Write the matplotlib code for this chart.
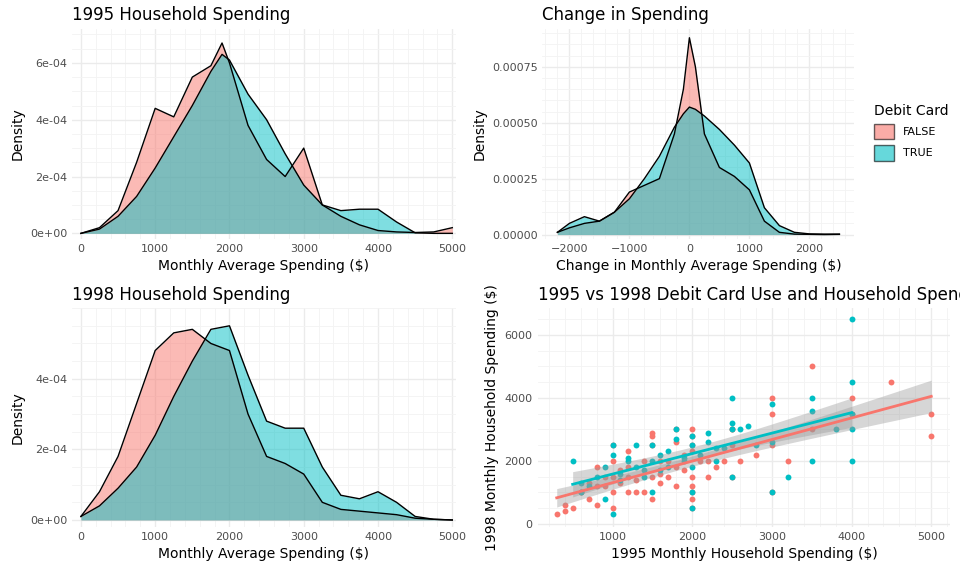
import numpy as np
import matplotlib.pyplot as plt
from matplotlib.patches import Patch

RED, CYAN = "#F8766D", "#00BFC4"
xs = [0,250,500,750,1000,1250,1500,1750,1900,2000,2250,2500,2750,3000,3250,3500,3750,4000,4250,4500,4750,5000]
d95_false = [0,0.2,0.8,2.5,4.4,4.1,5.5,5.9,6.7,6.0,3.8,2.6,2.0,3.0,1.0,0.6,0.3,0.1,0.05,0.03,0.05,0.2]
d95_true = [0,0.15,0.6,1.3,2.3,3.4,4.5,5.7,6.3,6.1,4.9,4.0,2.8,1.7,1.0,0.8,0.85,0.85,0.4,0.02,0,0]
xs98 = [0,250,500,750,1000,1250,1500,1750,2000,2250,2500,2750,3000,3250,3500,3750,4000,4250,4500,4750,5000]
d98_false = [0.1,0.8,1.8,3.3,4.8,5.3,5.4,5.0,4.8,3.0,1.8,1.6,1.3,0.5,0.3,0.25,0.2,0.15,0.05,0.02,0]
d98_true = [0.1,0.4,0.9,1.5,2.4,3.5,4.5,5.4,5.5,4.1,2.8,2.6,2.6,1.5,0.7,0.6,0.8,0.5,0.1,0.02,0]
xc = [-2200,-2000,-1750,-1500,-1250,-1000,-750,-500,-250,-100,0,100,250,500,750,1000,1250,1500,1750,2000,2250,2500]
dc_false = [0.1,0.3,0.5,0.6,1.0,1.9,2.2,2.5,4.5,6.5,8.8,7.5,4.5,3.0,2.6,2.0,0.6,0.1,0.02,0.01,0,0.01]
dc_true = [0.1,0.5,0.8,0.6,1.0,1.6,2.5,3.5,4.8,5.4,5.7,5.6,5.3,4.7,4.0,3.2,1.2,0.4,0.1,0.03,0.02,0.02]

sp95_false = [300,400,500,600,700,800,800,900,1000,1000,1000,1100,1200,1200,1300,1400,1500,1500,1500,1600,1700,1800,1800,1900,2000,2000,2000,2000,2000,2100,2200,2300,2500,2500,2600,2800,3000,3000,3000,3200,3500,3500,4000,4000,4500,5000,5000,
              400,600,700,900,1000,1100,1200,1300,1500,1600,1700,1800,1900,2000,2000,2000,2200,2400,2500,3000,1000,1200,1500,1800,2000,800,1400,1600,2500]
sp98_false = [300,600,500,1000,800,1200,600,1500,1000,2000,500,1300,1500,1800,1000,2000,1500,2500,800,1600,2000,1800,1200,2200,1500,2500,1000,3000,500,2000,2000,1800,2500,1500,2000,2200,4000,3500,2500,2000,5000,3000,4000,3500,4500,3500,2800,
              400,1000,1300,1200,1500,1700,2300,1400,2800,1300,1500,2600,1700,1200,2800,800,1500,2000,3000,1000,2500,1000,2900,3000,2300,1800,1000,2000,3000]
sp95_true = [500,600,700,800,900,1000,1000,1100,1200,1300,1400,1500,1500,1600,1700,1800,1900,2000,2000,2000,2100,2200,2300,2500,2500,2500,2600,2800,3000,3000,3200,3500,3500,3800,4000,4000,4000,4000,
             600,900,1000,1200,1400,1500,1700,1800,2000,2000,2200,2400,2500,2700,3000,3500,4000,1100,1300,1600,1900,2300]
sp98_true = [2000,1000,1200,1500,800,2500,300,1400,2000,1800,1500,2500,1000,2200,1800,3000,2000,1800,2500,1000,2200,2600,2000,4000,3000,1500,3000,2500,3800,1000,1500,4000,2000,3000,6500,2000,4500,3500,
             1300,1800,2200,2100,1700,2000,2300,2700,2800,500,2900,2400,3200,3100,2600,3600,3000,1600,2500,1700,2100,2400]

fig = plt.figure(figsize=(9.6,5.76), dpi=100)
plt.rcParams['font.family'] = 'DejaVu Sans'
def style(ax):
    ax.set_facecolor('white')
    for s in ax.spines.values(): s.set_visible(False)
    ax.grid(True, color='#EBEBEB', lw=1); ax.set_axisbelow(True)
    ax.tick_params(length=0, labelsize=8, colors='#4D4D4D')
    ax.minorticks_on(); ax.grid(True, which='minor', color='#F3F3F3', lw=0.6)
    ax.tick_params(which='minor', length=0)

def dens(ax, x, a, b, scale, title, xlabel):
    for d, c in [(a, RED), (b, CYAN)]:
        y = np.array(d)*scale
        ax.fill_between(x, y, color=c, alpha=0.5, lw=0)
        ax.plot(x, y, color='black', lw=1)
    style(ax); ax.set_title(title, loc='left', fontsize=12)
    ax.set_xlabel(xlabel, fontsize=10); ax.set_ylabel('Density', fontsize=10)

ax1 = fig.add_axes([0.075,0.585,0.4,0.365])
dens(ax1, xs, d95_false, d95_true, 1e-4, '1995 Household Spending', 'Monthly Average Spending ($)')
ax1.set_yticks([0,2e-4,4e-4,6e-4]); ax1.set_yticklabels(['0e+00','2e-04','4e-04','6e-04'])
ax1.set_xticks(range(0,5001,1000)); ax1.set_xlim(-120,5050); ax1.set_ylim(-0.2e-4,7.2e-4)

ax2 = fig.add_axes([0.565,0.585,0.325,0.365])
dens(ax2, xc, dc_false, dc_true, 1e-4, 'Change in Spending', 'Change in Monthly Average Spending ($)')
ax2.set_yticks([0,2.5e-4,5e-4,7.5e-4]); ax2.set_yticklabels(['0.00000','0.00025','0.00050','0.00075'])
ax2.set_xticks([-2000,-1000,0,1000,2000]); ax2.set_xlim(-2450,2750); ax2.set_ylim(-0.2e-4,9.2e-4)
fig.legend(handles=[Patch(fc=RED, ec='black', alpha=0.6, label='FALSE'), Patch(fc=CYAN, ec='black', alpha=0.6, label='TRUE')],
           title='Debit Card', loc='center left', bbox_to_anchor=(0.9,0.77), frameon=False, fontsize=8, title_fontsize=10, alignment='left',
           handlelength=1.8, handleheight=1.8)

ax3 = fig.add_axes([0.075,0.085,0.4,0.38])
dens(ax3, xs98, d98_false, d98_true, 1e-4, '1998 Household Spending', 'Monthly Average Spending ($)')
ax3.set_yticks([0,2e-4,4e-4]); ax3.set_yticklabels(['0e+00','2e-04','4e-04'])
ax3.set_xticks(range(0,5001,1000)); ax3.set_xlim(-120,5050); ax3.set_ylim(-0.2e-4,6.0e-4)

ax4 = fig.add_axes([0.56,0.085,0.43,0.38])
style(ax4)
for x, y, c in [(sp95_false, sp98_false, RED), (sp95_true, sp98_true, CYAN)]:
    x = np.array(x, float); y = np.array(y, float)
    ax4.scatter(x, y, s=18, color=c, zorder=3, lw=0)
    p = np.polyfit(x, y, 1); g = np.linspace(x.min(), x.max(), 100)
    n = len(x); res = y - np.polyval(p, x); s = np.sqrt(res@res/(n-2))
    se = s*np.sqrt(1/n + (g-x.mean())**2/((x-x.mean())**2).sum())
    ax4.fill_between(g, np.polyval(p,g)-2*se, np.polyval(p,g)+2*se, color='#999999', alpha=0.4, lw=0, zorder=4)
    ax4.plot(g, np.polyval(p,g), color=c, lw=2, zorder=5)
ax4.set_title('1995 vs 1998 Debit Card Use and Household Spending', loc='left', fontsize=12)
ax4.set_xlabel('1995 Monthly Household Spending ($)', fontsize=10)
ax4.set_ylabel('1998 Monthly Household Spending ($)', fontsize=10)
ax4.set_xticks(range(1000,5001,1000)); ax4.set_yticks(range(0,6001,2000))
ax4.set_xlim(60,5240); ax4.set_ylim(-100,6850)
fig.savefig('out.png')
